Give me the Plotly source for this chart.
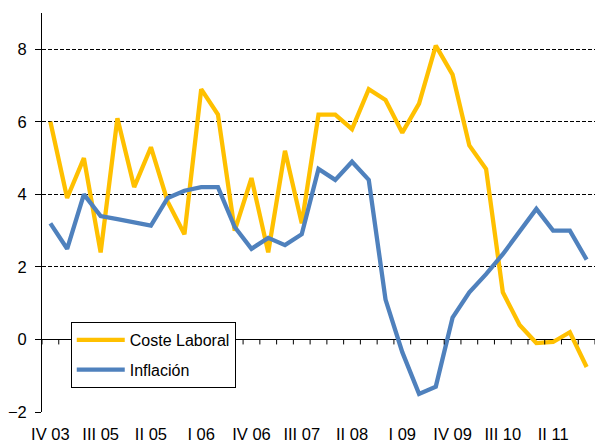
import plotly.graph_objects as go

quarters = ["IV 03",
            "I 04", "II 04", "III 04", "IV 04",
            "I 05", "II 05", "III 05", "IV 05",
            "I 06", "II 06", "III 06", "IV 06",
            "I 07", "II 07", "III 07", "IV 07",
            "I 08", "II 08", "III 08", "IV 08",
            "I 09", "II 09", "III 09", "IV 09",
            "I 10", "II 10", "III 10", "IV 10",
            "I 11", "II 11", "III 11", "IV 11"]

coste_laboral = [6.0, 3.9, 5.0, 2.4, 6.1, 4.2, 5.3, 3.8, 2.9,
                 6.9, 6.2, 3.0, 4.45, 2.4, 5.2, 3.2, 6.2,
                 6.2, 5.8, 6.9, 6.6, 5.7, 6.5, 8.1, 7.3,
                 5.35, 4.7, 1.3, 0.4, -0.1, -0.07, 0.2, -0.76]

inflacion = [3.2, 2.5, 4.0, 3.4, 3.32, 3.23, 3.14, 3.9, 4.1,
             4.2, 4.2, 3.1, 2.5, 2.8, 2.6, 2.9, 4.7,
             4.4, 4.9, 4.4, 1.1, -0.35, -1.5, -1.3, 0.6,
             1.3, 1.8, 2.35, 3.0, 3.6, 3.0, 3.0, 2.2]

tick_quarters = quarters[::3]
tick_labels = ["IV 03", "III 05", "II 05", "I 06", "IV 06", "III 07",
               "II 08", "I 09", "IV 09", "III 10", "II 11"]

y_ticks = [-2, 0, 2, 4, 6, 8]

FONT = "Liberation Sans, Arial, sans-serif"

fig = go.Figure()
fig.add_trace(go.Scatter(x=quarters, y=coste_laboral, mode="lines",
                         name="Coste Laboral", legendgroup="a",
                         line=dict(color="#FFC000", width=4.3)))
fig.add_trace(go.Scatter(x=quarters, y=inflacion, mode="lines",
                         name="Inflación", legendgroup="b",
                         line=dict(color="#4F81BD", width=4.3)))

# category boundary tick marks on the zero line
shapes = []
for k in range(len(quarters) + 1):
    shapes.append(dict(type="line", xref="x", yref="y",
                       x0=k - 0.5, x1=k - 0.5,
                       ysizemode="pixel", yanchor=0, y0=0, y1=-5,
                       line=dict(color="black", width=1)))

fig.update_layout(
    width=595, height=444,
    margin=dict(l=42, r=0, t=13, b=32, autoexpand=False),
    paper_bgcolor="white", plot_bgcolor="white",
    font=dict(family=FONT, size=16, color="black"),
    showlegend=True,
    legend=dict(x=0.052, y=0.2256, xanchor="left", yanchor="top",
                bgcolor="white", bordercolor="black", borderwidth=1,
                font=dict(size=16), tracegroupgap=6,
                itemwidth=48),
    xaxis=dict(type="category", range=[-0.5, len(quarters) - 0.5],
               tickmode="array", tickvals=tick_quarters, ticktext=tick_labels,
               showgrid=False, showline=False, zeroline=False,
               automargin=False, ticks="", ticklabelstandoff=10,
               tickfont=dict(size=16.5)),
    yaxis=dict(range=[-2, 9], tickmode="array", tickvals=y_ticks,
               showline=True, linecolor="black", linewidth=1,
               ticks="outside", ticklen=6, tickcolor="black",
               showgrid=True, gridcolor="black", gridwidth=1,
               griddash="4px,2px", automargin=False,
               zeroline=True, zerolinecolor="black", zerolinewidth=1,
               ticklabelstandoff=5,
               tickfont=dict(size=16.5)),
    shapes=shapes,
)

fig.write_html("out.html",
               config={"displayModeBar": False},
               post_script="document.body.style.margin='0';")
